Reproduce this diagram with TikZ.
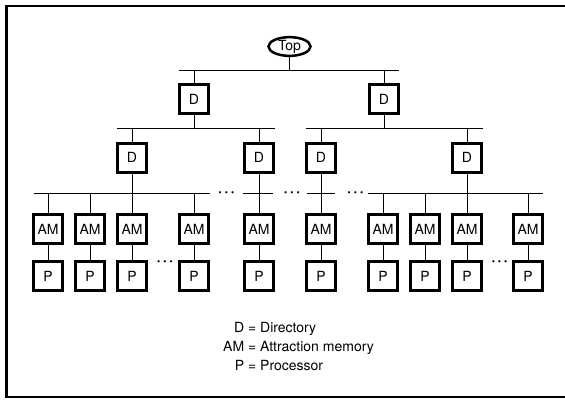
\documentclass[tikz,border=0pt]{standalone}
\usepackage{fontspec}
\setmainfont{TeX Gyre Heros}
\usetikzlibrary{shapes.geometric}
\begin{document}
\begin{tikzpicture}[x=1pt,y=-1pt,
  lbl/.style={font=\fontsize{14}{17}\selectfont},
  box/.style={draw, line width=3pt, minimum width=28.5pt, minimum height=29pt, inner sep=0pt, lbl},
  wire/.style={line width=1pt},
  ellip/.style={inner sep=0pt, anchor=base, font=\fontsize{15}{17}\selectfont\bfseries}]
\useasboundingbox (0,0) rectangle (565,399);
% frame
\draw[line width=2.2pt] (565,6) -- (6.5,6) -- (6.5,397) -- (565,397);
% top
\node[draw, ellipse, line width=2.5pt, minimum width=42pt, minimum height=16.5pt, inner sep=0pt, lbl] (top) at (289.5,46.5) {Top};
% directories
\node[box] (d1) at (194,99) {D};
\node[box] (d2) at (384,99) {D};
\node[box] (d3) at (132,157.5) {D};
\node[box] (d4) at (259,157.5) {D};
\node[box] (d5) at (321,157.5) {D};
\node[box] (d6) at (467,157.5) {D};
% AM and P
\foreach \i/\x in {1/48,2/90,3/132,4/194,5/259,6/321,7/383,8/425,9/467,10/528}{
  \node[box] (am\i) at (\x,229) {AM};
  \node[box] (p\i) at (\x,276) {P};
  \draw[wire] (am\i.south) -- (p\i.north);
}
% bus 1
\coordinate (b1l) at (179,70);
\coordinate (b1r) at (399,70);
\draw[wire] (b1l) -- (b1r);
\draw[wire] (top.south) -- (top.south |- b1l);
\draw[wire] (d1.north |- b1l) -- (d1.north);
\draw[wire] (d2.north |- b1l) -- (d2.north);
% bus 2
\coordinate (b2a) at (117,128);
\coordinate (b2b) at (275,128);
\coordinate (b2c) at (306,128);
\coordinate (b2d) at (483,128);
\draw[wire] (b2a) -- (b2b);
\draw[wire] (b2c) -- (b2d);
\draw[wire] (d1.south) -- (d1.south |- b2a);
\draw[wire] (d2.south) -- (d2.south |- b2c);
\draw[wire] (d3.north |- b2a) -- (d3.north);
\draw[wire] (d4.north |- b2a) -- (d4.north);
\draw[wire] (d5.north |- b2c) -- (d5.north);
\draw[wire] (d6.north |- b2c) -- (d6.north);
% bus 3
\coordinate (b3a) at (34,193);
\coordinate (b3b) at (210,193);
\coordinate (b3c) at (243,193);
\coordinate (b3d) at (273,193);
\coordinate (b3e) at (307,193);
\coordinate (b3f) at (335,193);
\coordinate (b3g) at (368,193);
\coordinate (b3h) at (543,193);
\draw[wire] (b3a) -- (b3b);
\draw[wire] (b3c) -- (b3d);
\draw[wire] (b3e) -- (b3f);
\draw[wire] (b3g) -- (b3h);
\draw[wire] (d3.south) -- (am3.north);
\draw[wire] (d4.south) -- (am5.north);
\draw[wire] (d5.south) -- (am6.north);
\draw[wire] (d6.south) -- (am9.north);
\foreach \i in {1,2,4,7,8,10}{
  \draw[wire] (am\i.north |- b3a) -- (am\i.north);
}
% ellipses
\node[ellip] (e1) at (226.5,196.5) {·\kern2pt·\kern2pt·};
\node[ellip] (e2) at (292,196.5) {·\kern2pt·\kern2pt·};
\node[ellip] (e3) at (355.5,196.5) {·\kern2pt·\kern2pt·};
\node[ellip] (e4) at (165,265.5) {·\kern2pt·\kern2pt·};
\node[ellip] (e5) at (499.5,265.5) {·\kern2pt·\kern2pt·};
% legend
\node[anchor=north west, inner sep=0pt, font=\fontsize{14}{19}\selectfont] (legend) at (223,318.7)
  {\begin{tabular}{@{}r@{ = }l@{}}D & Directory\\ AM & Attraction memory\\ P & Processor\end{tabular}};
\end{tikzpicture}
\end{document}
